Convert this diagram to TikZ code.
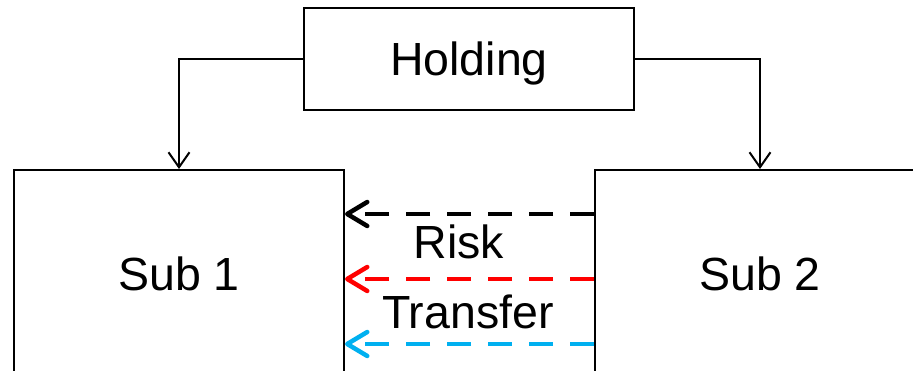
\documentclass[tikz,border=0pt]{standalone}
\usepackage{fontspec}
\setmainfont{Liberation Sans}
\usetikzlibrary{arrows.meta}
\definecolor{flowred}{RGB}{255,0,0}
\definecolor{flowcyan}{RGB}{0,176,240}
\tikzset{
  entity/.style={draw, line width=2pt, minimum width=330pt, inner sep=0pt,
    font=\fontsize{46.5}{50}\selectfont, text height=33pt, text depth=0pt},
  label/.style={inner sep=0pt, anchor=base, font=\fontsize{46.5}{50}\selectfont},
  link/.style={line width=2pt, -{Straight Barb[length=15pt,width=21pt]}},
  flow/.style={line width=4.5pt, dash pattern=on 24pt off 17pt,
    -{Straight Barb[round,length=20pt,width=24pt]}}
}
\begin{document}
\begin{tikzpicture}[x=1pt,y=-1pt]
  \clip (0,0) rectangle (913,370);
  % company boxes
  \node[entity, minimum height=102pt] (hold) at (469,59) {Holding};
  \node[entity, minimum height=207pt] (sub1) at (179,273.5) {Sub 1};
  \node[entity, minimum height=207pt] (sub2) at (760,273.5) {Sub 2};
  % ownership links
  \draw[link] (hold.west) -| (sub1.north);
  \draw[link] (hold.east) -| (sub2.north);
  % risk flows from Sub 2 to Sub 1
  \coordinate (yk) at (0,214);
  \coordinate (yr) at (0,279);
  \coordinate (yc) at (0,344);
  \draw[flow, black] (sub2.west |- yk) -- (sub1.east |- yk);
  \draw[flow, flowred] (sub2.west |- yr) -- (sub1.east |- yr);
  \draw[flow, flowcyan] (sub2.west |- yc) -- (sub1.east |- yc);
  \node[label] (risk) at (459,258) {Risk};
  \node[label] (transfer) at (468,328) {Transfer};
\end{tikzpicture}
\end{document}
